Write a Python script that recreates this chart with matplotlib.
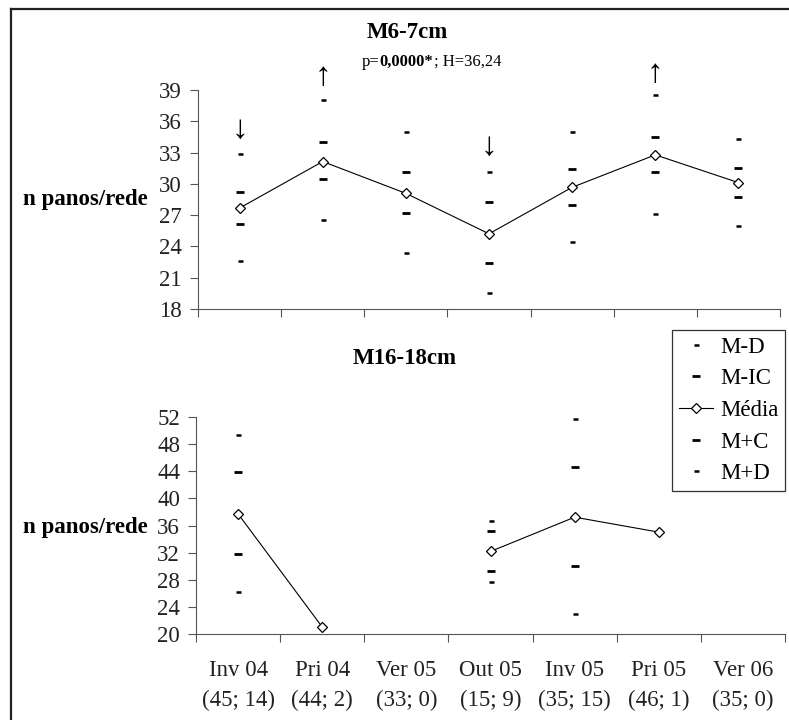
import numpy as np
import matplotlib
matplotlib.use("Agg")
import matplotlib.pyplot as plt
from matplotlib.lines import Line2D

plt.rcParams['font.family'] = ['Liberation Serif', 'DejaVu Serif']

# dados
periodos = ['Inv 04', 'Pri 04', 'Ver 05', 'Out 05', 'Inv 05', 'Pri 05', 'Ver 06']
amostras = ['(45; 14)', '(44; 2)', '(33; 0)', '(15; 9)', '(35; 15)', '(46; 1)', '(35; 0)']

nan = np.nan
# M6-7cm
md_6 = [22.65, 26.53, 23.39, 19.5, 24.38, 27.1, 25.95]
mic_6 = [26.18, 30.5, 27.2, 22.39, 27.94, 31.18, 28.74]
media_6 = [27.68, 32.14, 29.09, 25.21, 29.67, 32.78, 30.12]
mpc_6 = [29.19, 33.97, 31.18, 28.29, 31.4, 34.54, 31.53]
mpd_6 = [32.84, 38.04, 34.96, 31.18, 34.96, 38.52, 34.29]
# setas (periodo, direcao, altura)
setas_6 = [(0, '↓', 35.2), (1, '↑', 40.25), (3, '↓', 33.6), (5, '↑', 40.6)]

# M16-18cm
md_16 = [26.23, nan, nan, 27.71, 23.0, nan, nan]
mic_16 = [31.83, nan, nan, 29.23, 30.06, nan, nan]
media_16 = [37.72, 21.03, nan, 32.17, 37.23, 35.02, nan]
mpc_16 = [43.95, nan, nan, 35.17, 44.69, nan, nan]
mpd_16 = [49.35, nan, nan, 36.64, 51.75, nan, nan]

W, H = 789, 720
FS = 16.5
fig = plt.figure(figsize=(W / 100, H / 100), dpi=100)

ax1 = fig.add_axes([198 / W, 1 - 309 / H, (780 - 198) / W, (309 - 90) / H])
ax2 = fig.add_axes([196 / W, 1 - 634 / H, (785 - 196) / W, (634 - 417) / H])

x = np.arange(len(periodos)) + 0.5
cinza = '#555555'


def desenha(ax, md, mic, media, mpc, mpd):
    h = []
    h.append(ax.plot(x, md, ls='none', marker='_', ms=3.6, mew=1.8, color='black', label='M-D')[0])
    h.append(ax.plot(x, mic, ls='none', marker='_', ms=6, mew=2.0, color='black', label='M-IC')[0])
    h.append(ax.plot(x, media, ls='-', lw=0.8, color='black', marker='D', ms=5.2,
                     mfc='white', mec='black', mew=0.9, label='Média', zorder=3)[0])
    h.append(ax.plot(x, mpc, ls='none', marker='_', ms=6, mew=2.0, color='black', label='M+C')[0])
    h.append(ax.plot(x, mpd, ls='none', marker='_', ms=3.6, mew=1.8, color='black', label='M+D')[0])
    ax.set_xlim(0, 7)
    for s in ['top', 'right']:
        ax.spines[s].set_visible(False)
    for s in ['left', 'bottom']:
        ax.spines[s].set_color(cinza)
        ax.spines[s].set_linewidth(0.8)
    ax.set_xticks(np.arange(8))
    ax.set_xticklabels([])
    ax.tick_params(axis='both', which='major', direction='out', length=5.5,
                   width=0.8, color=cinza, labelsize=FS, labelcolor='#222222', pad=6)
    ax.set_ylabel('n panos/rede', rotation=0, fontsize=FS, fontweight='bold',
                  ha='right', va='center')
    return h


desenha(ax1, md_6, mic_6, media_6, mpc_6, mpd_6)
ax1.set_ylim(18, 39)
ax1.set_yticks(np.arange(18, 40, 3))
ax1.yaxis.set_label_coords(-50 / (780 - 198), (309 - 200) / (309 - 90))
for i, seta, y in setas_6:
    ax1.text(x[i], y, seta, ha='center', va='center', fontsize=24, clip_on=False)

handles = desenha(ax2, md_16, mic_16, media_16, mpc_16, mpd_16)
ax2.set_ylim(20, 52)
ax2.set_yticks(np.arange(20, 53, 4))
ax2.yaxis.set_label_coords(-48 / (785 - 196), (634 - 527) / (634 - 417))
ax2.set_xticks(x, minor=True)
ax2.set_xticklabels([p + '\n' + n for p, n in zip(periodos, amostras)], minor=True,
                    fontsize=FS, linespacing=1.5)
ax2.tick_params(axis='x', which='minor', length=0, pad=19, labelcolor='#222222')

fig.text(407 / W, 1 - 32 / H, 'M6-7cm', ha='center', va='center', fontsize=FS, fontweight='bold')
fig.text(405 / W, 1 - 359 / H, 'M16-18cm', ha='center', va='center', fontsize=FS, fontweight='bold')

# subtitulo com parte em negrito
t1 = fig.text(362 / W, 1 - 62 / H, 'p=', ha='left', va='center', fontsize=12)
t2 = plt.annotate('0,0000*', xy=(1, 0), xycoords=t1, va='bottom', ha='left',
                  fontsize=12, fontweight='bold', annotation_clip=False)
t3 = plt.annotate('; H=36,24', xy=(1, 0), xycoords=t2, va='bottom', ha='left',
                  fontsize=12, annotation_clip=False)

leg = fig.legend(handles=handles, loc='upper left', bbox_to_anchor=(672 / W, 1 - 330 / H),
                 borderaxespad=0, fancybox=False, frameon=True, fontsize=FS, numpoints=1,
                 handlelength=1.5, handletextpad=0.3, labelspacing=0.46, borderpad=0.3)
leg.get_frame().set_edgecolor('black')
leg.get_frame().set_linewidth(0.9)

# moldura externa
fig.add_artist(Line2D([10.5 / W, 10.5 / W], [0, 1 - 8.5 / H], color='#222222', lw=1.6,
                      transform=fig.transFigure))
fig.add_artist(Line2D([10.5 / W, 1], [1 - 8.5 / H, 1 - 8.5 / H], color='#222222', lw=1.6,
                      transform=fig.transFigure))

fig.savefig('out.png', dpi=100)
